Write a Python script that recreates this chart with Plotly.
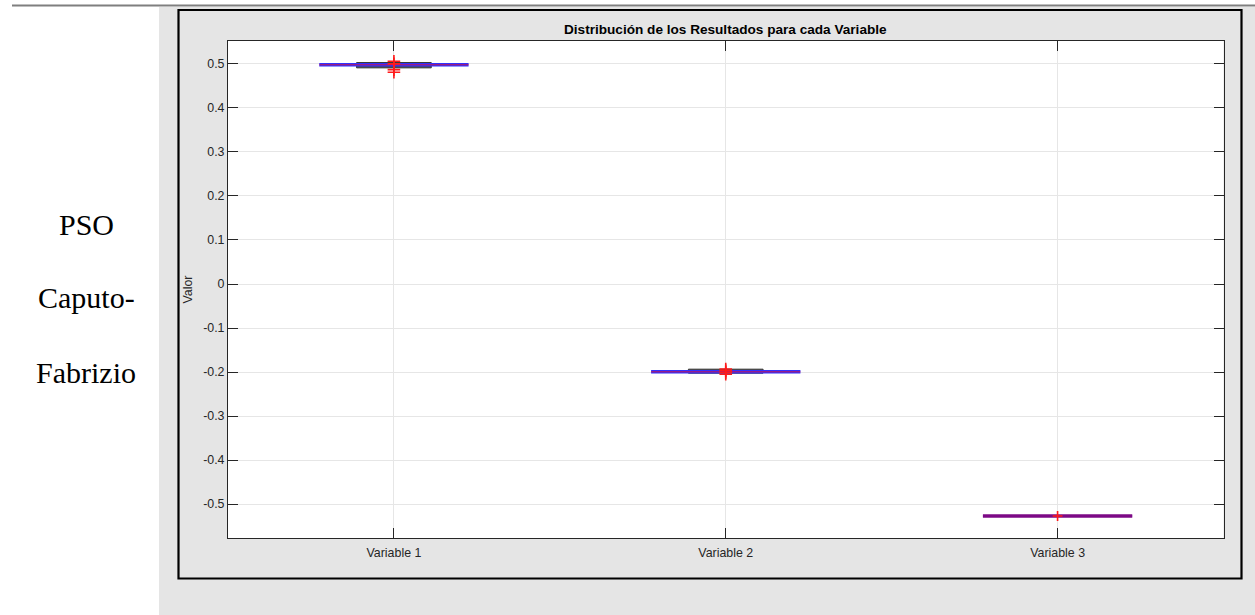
import plotly.graph_objects as go

# Summary statistics per variable
variables = ["Variable 1", "Variable 2", "Variable 3"]
medians = [0.498, -0.1995, -0.527]
q1_vals = [0.491, -0.2025, -0.527]
q3_vals = [0.503, -0.1935, -0.527]
outliers = [
    [0.506, 0.5, 0.487, 0.481],
    [-0.193, -0.197, -0.201, -0.205],
    [-0.527],
]
y_ticks = [-0.5, -0.4, -0.3, -0.2, -0.1, 0, 0.1, 0.2, 0.3, 0.4, 0.5]
row_label = ["PSO", "Caputo-", "Fabrizio"]
chart_title = "Distribución de los Resultados para cada Variable"

W, H = 1255, 615
line_colors = ["#2f2fff", "#2f2fff", "#7d0a86"]
box_half = 0.1125
whisk_half = 0.225
outlier_sizes = [9, 9, 7]


def px_x(v):
    return v / W


def px_y(v):
    return 1 - v / H


fig = go.Figure()

for i, name in enumerate(variables):
    c = i + 1
    # dark interquartile box
    if q3_vals[i] > q1_vals[i]:
        fig.add_trace(go.Scatter(
            x=[c - box_half, c + box_half, c + box_half, c - box_half, c - box_half],
            y=[q1_vals[i], q1_vals[i], q3_vals[i], q3_vals[i], q1_vals[i]],
            mode="lines", fill="toself", fillcolor="#4a4a4a",
            line=dict(color="#333333", width=1), hoverinfo="skip", showlegend=False))
    # wide centre line
    fig.add_trace(go.Scatter(
        x=[c - whisk_half, c + whisk_half], y=[medians[i], medians[i]],
        mode="lines", line=dict(color=line_colors[i], width=3.5),
        hoverinfo="skip", showlegend=False))
    # median
    fig.add_trace(go.Scatter(
        x=[c - whisk_half, c + whisk_half], y=[medians[i], medians[i]],
        mode="lines", line=dict(color="#e8102a" if i < 2 else line_colors[i], width=0.8),
        hoverinfo="skip", showlegend=False))
    # outliers
    fig.add_trace(go.Scatter(
        x=[c] * len(outliers[i]), y=outliers[i], mode="markers",
        marker=dict(symbol="cross-thin", size=outlier_sizes[i],
                    line=dict(color="#ff1a1a", width=1.6)),
        hoverinfo="skip", showlegend=False))

x0d, x1d = 228, 1223.5
y0d, y1d = 41, 538

shapes = [
    # grey panel
    dict(type="rect", xref="paper", yref="paper", x0=px_x(159), x1=1.0,
         y0=0, y1=px_y(7), fillcolor="#e5e5e5", line=dict(width=0), layer="below"),
    # top rule
    dict(type="line", xref="paper", yref="paper", x0=px_x(12), x1=1.0,
         y0=px_y(5.5), y1=px_y(5.5), line=dict(color="#7f7f7f", width=2), layer="below"),
    # white axes background
    dict(type="rect", xref="x domain", yref="y domain", x0=0, x1=1, y0=0, y1=1,
         fillcolor="white", line=dict(width=0), layer="below"),
    # black frame
    dict(type="rect", xref="paper", yref="paper", x0=px_x(178.5), x1=px_x(1241.5),
         y0=px_y(578.5), y1=px_y(10), fillcolor="rgba(0,0,0,0)",
         line=dict(color="#000000", width=2.2), layer="above"),
]

annotations = [
    dict(text="<b>" + chart_title + "</b>", xref="paper", yref="paper",
         x=(px_x(x0d) + px_x(x1d)) / 2, y=px_y(29.5), xanchor="center", yanchor="middle",
         showarrow=False, font=dict(family="Liberation Sans, Arial", size=13.6, color="#000000")),
]
for txt, yy in zip(row_label, [224, 297, 373]):
    annotations.append(dict(text=txt, xref="paper", yref="paper", x=px_x(86), y=px_y(yy),
                            xanchor="center", yanchor="middle", showarrow=False,
                            font=dict(family="Liberation Serif, Times New Roman", size=30,
                                      color="#000000")))

axis_font = dict(family="Liberation Sans, Arial", size=12.4, color="#262626")

fig.update_layout(
    width=W, height=H,
    margin=dict(l=0, r=0, t=0, b=0),
    paper_bgcolor="white",
    plot_bgcolor="white",
    shapes=shapes,
    annotations=annotations,
    xaxis=dict(
        domain=[px_x(x0d), px_x(x1d)],
        range=[0.5, 3.5],
        tickvals=[1, 2, 3], ticktext=variables,
        showgrid=True, gridcolor="#e6e6e6", gridwidth=1,
        zeroline=False,
        showline=True, linecolor="#262626", linewidth=1, mirror="allticks",
        ticks="inside", ticklen=10, tickwidth=1, tickcolor="#262626",
        tickfont=axis_font, ticklabelstandoff=3,
    ),
    yaxis=dict(
        domain=[px_y(y1d), px_y(y0d)],
        range=[-0.577, 0.552],
        tickvals=y_ticks,
        ticktext=[("%g" % v) for v in y_ticks],
        showgrid=True, gridcolor="#e6e6e6", gridwidth=1,
        zeroline=False,
        showline=True, linecolor="#262626", linewidth=1, mirror="allticks",
        ticks="inside", ticklen=10, tickwidth=1, tickcolor="#262626",
        tickfont=axis_font,
        title=dict(text="Valor", font=axis_font, standoff=7),
    ),
)

fig.write_html("out.html")
